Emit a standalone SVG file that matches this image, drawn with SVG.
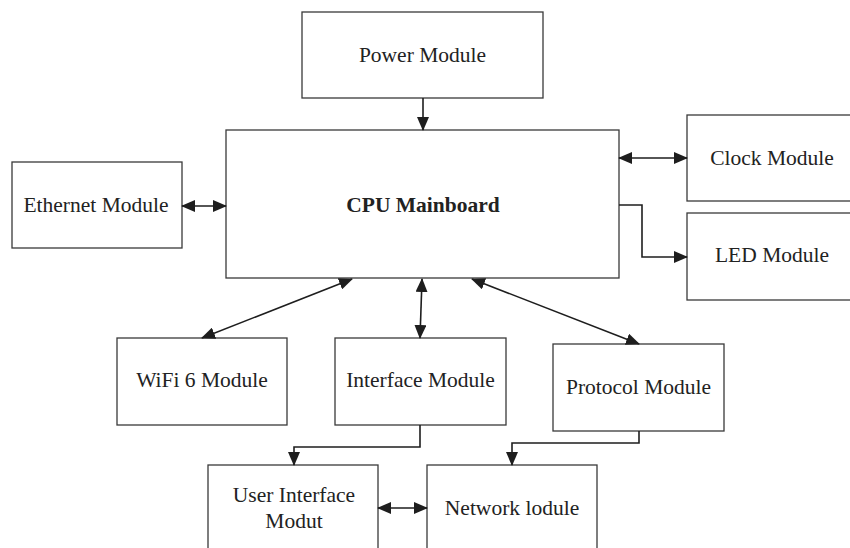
<svg xmlns="http://www.w3.org/2000/svg" width="850" height="548" viewBox="0 0 850 548">
  <style>
    .box { fill: #ffffff; stroke: #3a3a3a; stroke-width: 1.3; }
    .lbl { font-family: "Liberation Serif", "Times New Roman", serif; font-size: 21.5px; fill: #222222; text-anchor: middle; }
    .bold { font-weight: bold; }
    .wire { fill: none; stroke: #1e1e1e; stroke-width: 1.6; }
  </style>
  <defs>
    <marker id="arrow" markerUnits="userSpaceOnUse" markerWidth="14" markerHeight="12" viewBox="0 0 14 12" refX="13" refY="6" orient="auto-start-reverse">
      <path d="M0,0 L14,6 L0,12 Z" fill="#1e1e1e"/>
    </marker>
  </defs>
  <rect width="850" height="548" fill="#ffffff"/>

  <g id="power">
    <rect class="box" x="302" y="12" width="241" height="86"/>
    <text class="lbl" x="422.5" y="62">Power Module</text>
  </g>
  <g id="cpu">
    <rect class="box" x="226" y="130" width="393" height="148"/>
    <text class="lbl bold" x="423" y="212">CPU Mainboard</text>
  </g>
  <g id="ethernet">
    <rect class="box" x="12" y="162" width="170" height="86"/>
    <text class="lbl" x="96" y="212">Ethernet Module</text>
  </g>
  <g id="clock">
    <rect class="box" x="687" y="115" width="175" height="86"/>
    <text class="lbl" x="772" y="165">Clock Module</text>
  </g>
  <g id="led">
    <rect class="box" x="687" y="213" width="175" height="87"/>
    <text class="lbl" x="772" y="262">LED Module</text>
  </g>
  <g id="wifi">
    <rect class="box" x="117" y="338" width="170" height="87"/>
    <text class="lbl" x="202" y="387">WiFi 6 Module</text>
  </g>
  <g id="interface">
    <rect class="box" x="335" y="338" width="171" height="87"/>
    <text class="lbl" x="420.5" y="387">Interface Module</text>
  </g>
  <g id="protocol">
    <rect class="box" x="553" y="344" width="171" height="87"/>
    <text class="lbl" x="638.5" y="394">Protocol Module</text>
  </g>
  <g id="user-interface">
    <rect class="box" x="208" y="465" width="170" height="100"/>
    <text class="lbl" x="294" y="502">User Interface</text>
    <text class="lbl" x="294" y="528">Modut</text>
  </g>
  <g id="network">
    <rect class="box" x="427" y="465" width="170" height="100"/>
    <text class="lbl" x="512" y="515">Network lodule</text>
  </g>

  <g id="connectors">
    <line class="wire" x1="423" y1="98" x2="423" y2="130" marker-end="url(#arrow)"/>
    <line class="wire" x1="182" y1="206" x2="226" y2="206" marker-start="url(#arrow)" marker-end="url(#arrow)"/>
    <line class="wire" x1="619" y1="158" x2="687" y2="158" marker-start="url(#arrow)" marker-end="url(#arrow)"/>
    <polyline class="wire" points="619,205 642,205 642,257 687,257" marker-end="url(#arrow)"/>
    <line class="wire" x1="352" y1="279" x2="202" y2="338" marker-start="url(#arrow)" marker-end="url(#arrow)"/>
    <line class="wire" x1="422" y1="279" x2="420" y2="338" marker-start="url(#arrow)" marker-end="url(#arrow)"/>
    <line class="wire" x1="472" y1="279" x2="639" y2="344" marker-start="url(#arrow)" marker-end="url(#arrow)"/>
    <polyline class="wire" points="420,425 420,447 294,447 294,465" marker-end="url(#arrow)"/>
    <polyline class="wire" points="639,431 639,443 512,443 512,465" marker-end="url(#arrow)"/>
    <line class="wire" x1="378" y1="508" x2="427" y2="508" marker-start="url(#arrow)" marker-end="url(#arrow)"/>
  </g>
</svg>
